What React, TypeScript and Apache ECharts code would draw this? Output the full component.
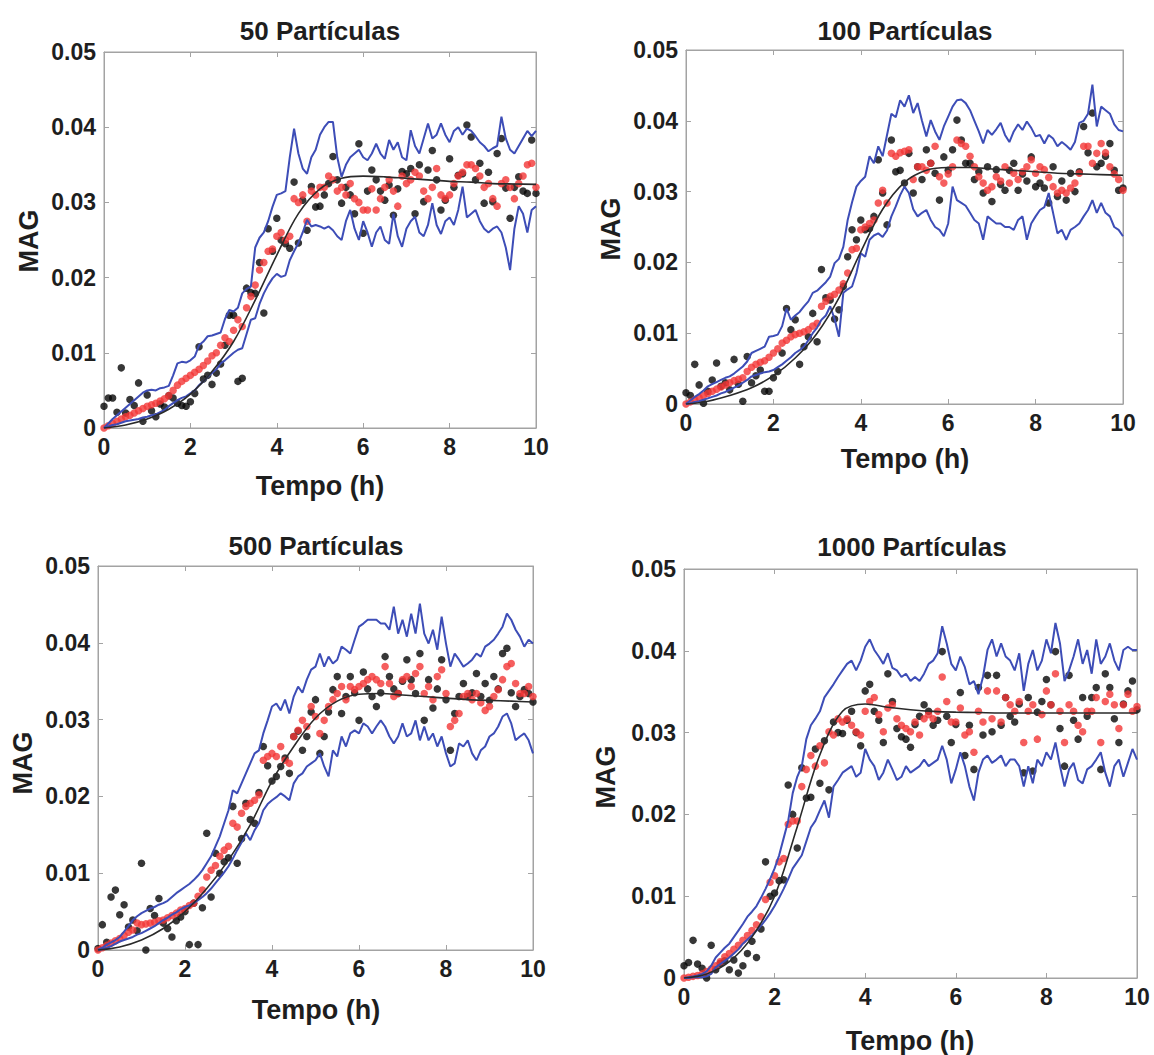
import React, { useEffect, useRef } from "react";
import * as echarts from "echarts";

// Time grid (h)
const TIME = [
  0, 0.1, 0.2, 0.3, 0.4, 0.5, 0.6, 0.7, 0.8, 0.9, 1.0,
  1.1, 1.2, 1.3, 1.4, 1.5, 1.6, 1.7, 1.8, 1.9, 2.0,
  2.1, 2.2, 2.3, 2.4, 2.5, 2.6, 2.7, 2.8, 2.9, 3.0,
  3.1, 3.2, 3.3, 3.4, 3.5, 3.6, 3.7, 3.8, 3.9, 4.0,
  4.1, 4.2, 4.3, 4.4, 4.5, 4.6, 4.7, 4.8, 4.9, 5.0,
  5.1, 5.2, 5.3, 5.4, 5.5, 5.6, 5.7, 5.8, 5.9, 6.0,
  6.1, 6.2, 6.3, 6.4, 6.5, 6.6, 6.7, 6.8, 6.9, 7.0,
  7.1, 7.2, 7.3, 7.4, 7.5, 7.6, 7.7, 7.8, 7.9, 8.0,
  8.1, 8.2, 8.3, 8.4, 8.5, 8.6, 8.7, 8.8, 8.9, 9.0,
  9.1, 9.2, 9.3, 9.4, 9.5, 9.6, 9.7, 9.8, 9.9, 10.0,
];
const CURVE_TIME = [0, 0.5, 1, 1.5, 2, 2.5, 3, 3.5, 4, 4.5, 5, 5.5, 6, 6.5, 7, 7.5, 8, 8.5, 9, 9.5, 10];

const TITLES = ["50 Partículas", "100 Partículas", "500 Partículas", "1000 Partículas"];
const X_NAME = "Tempo (h)";
const Y_NAME = "MAG";

// All MAG values below are in units of 0.001
// ---------- 50 partículas ----------
const P1_UPPER = [
  0, 0.6, 1.2, 1.7, 2.2, 2.7, 3.2, 3.7, 4.2, 4.7, 5.0,
  5.1, 5.0, 5.3, 5.4, 5.6, 7.0, 8.6, 8.8, 8.7, 9.0,
  9.5, 11.0, 11.5, 12.2, 12.3, 12.5, 12.7, 14.5, 15.7, 15.5,
  16.0, 17.9, 18.5, 18.8, 24.0, 25.3, 26.0, 27.5, 29.4, 31.0,
  31.2, 31.5, 36.0, 39.8, 36.5, 34.5, 33.8, 36.0, 37.0, 39.0,
  40.0, 40.7, 40.7, 36.0, 33.4, 35.0, 36.0, 36.5, 37.0, 36.0,
  35.6, 36.5, 37.8, 36.5, 35.8, 38.3, 37.0, 38.0, 36.0, 35.6,
  39.6, 37.5, 36.5, 38.5, 40.5, 38.5, 39.0, 40.5, 39.0, 38.0,
  39.5, 40.0, 39.0, 39.8, 39.5, 38.8, 38.0, 37.5, 36.8, 37.2,
  37.5, 41.4, 38.5, 37.0, 36.5, 37.5, 38.5, 39.5, 38.8, 39.5,
];
const P1_LOWER = [
  0, 0.2, 0.4, 0.5, 0.7, 0.9, 1.0, 1.1, 1.2, 1.4, 1.5,
  1.7, 1.8, 2.1, 2.4, 2.9, 3.3, 3.7, 4.0, 4.2, 4.6,
  5.0, 5.7, 6.2, 6.8, 7.3, 7.8, 8.6, 9.0, 9.5, 10.0,
  10.4, 10.6, 12.5, 14.4, 14.6, 16.5, 17.9, 19.0, 19.9, 20.5,
  20.1, 20.3, 22.3, 23.5, 24.6, 26.0, 27.7, 26.8, 27.0, 26.8,
  26.5, 26.8, 26.3, 25.5, 25.0, 27.5, 29.0, 26.5, 25.0, 27.5,
  26.0, 24.1, 26.0, 26.8, 25.0, 24.5, 28.5, 25.5, 24.1, 26.5,
  27.5, 28.1, 26.0, 25.5, 27.0, 29.9, 27.0, 25.8, 27.5, 28.0,
  27.0, 29.0, 32.1, 28.0, 28.5, 29.0, 27.5, 26.5, 26.0, 26.5,
  26.8, 26.0, 24.0, 21.0, 26.5, 29.5, 28.5, 26.0, 29.0, 29.5,
];
const P1_ESTIMATE = [
  0, 0.3, 0.6, 0.9, 1.2, 1.5, 1.7, 2.0, 2.3, 2.6, 2.9,
  3.1, 3.3, 3.6, 3.9, 4.3, 5.0, 5.7, 6.2, 6.6, 7.0,
  7.4, 7.8, 8.3, 8.9, 9.6, 10.0, 11.0, 12.0, 11.5, 13.0,
  14.4, 13.5, 16.0, 17.5, 19.0, 21.0, 22.0, 23.5, 23.8, 25.5,
  26.0, 25.0, 25.5, 30.5, 30.0, 31.0, 27.5, 31.5, 31.0, 32.0,
  32.0, 33.5, 33.0, 31.5, 32.0, 31.0, 32.5, 30.5, 30.0, 29.0,
  29.0, 31.8, 29.0, 30.5, 32.0, 33.0, 31.5, 29.5, 33.5, 32.5,
  33.0, 34.0, 33.5, 31.5, 30.5, 32.0, 34.5, 31.0, 30.5, 31.0,
  32.5, 33.5, 34.0, 35.0, 35.0, 34.5, 33.5, 32.0, 32.5, 30.5,
  29.5, 32.5, 33.0, 32.0, 30.5, 32.5, 33.5, 35.0, 35.2, 32.0,
];
const P1_MEASURED = [
  2.9, 4.0, 4.0, 2.1, 8.0, 2.0, 3.8, 3.0, 6.0, 0.9, 4.4,
  2.3, 1.5, 3.2, 2.8, 4.3, 4.0, 3.3, 3.0, 2.9, 3.5,
  4.6, 10.8, 6.5, 7.0, 5.8, 7.3, 8.5, 11.0, 15.0, 15.0,
  6.2, 6.6, 18.6, 18.0, 17.9, 22.0, 15.3, 26.5, 23.5, 27.9,
  25.0, 24.5, 23.9, 32.7, 24.6, 30.3, 26.3, 32.1, 29.4, 29.5,
  31.0, 32.5, 36.1, 33.0, 29.9, 32.0, 31.0, 28.5, 37.8, 25.9,
  31.5, 34.3, 33.0, 31.5, 30.3, 32.3, 28.3, 31.8, 34.1, 33.8,
  34.5, 28.5, 35.0, 30.1, 34.3, 36.9, 33.0, 29.0, 30.3, 35.8,
  32.0, 33.6, 33.8, 40.3, 38.7, 33.0, 35.2, 29.9, 34.0, 30.1,
  36.5, 38.5, 31.9, 27.9, 32.0, 33.4, 31.5, 31.2, 38.3, 31.2,
];
const P1_MODEL = [0, 0.4, 1.2, 2.5, 4.5, 7.5, 11.5, 17.0, 23.0, 28.5, 31.8, 33.2, 33.5, 33.4, 33.2, 33.0, 32.8, 32.7, 32.5, 32.45, 32.4];

// ---------- 100 partículas ----------
const P2_UPPER = [
  0, 0.5, 1.0, 1.4, 1.9, 2.5, 2.8, 3.1, 3.4, 3.7, 3.9,
  4.3, 4.8, 5.3, 6.0, 7.2, 7.5, 7.8, 8.1, 9.5, 9.6,
  9.8, 11.0, 13.5, 11.9, 12.5, 13.0, 13.8, 14.5, 15.7, 16.0,
  16.6, 17.2, 18.0, 19.9, 20.5, 22.2, 26.0, 28.5, 30.7, 31.5,
  32.1, 35.0, 34.0, 36.4, 35.0, 38.0, 41.0, 40.5, 42.9, 42.0,
  43.6, 41.1, 42.5, 40.0, 37.8, 40.1, 38.5, 37.3, 39.2, 40.6,
  42.0, 42.9, 43.0, 42.5, 41.5, 40.0, 38.5, 36.8, 38.7, 38.0,
  38.8, 39.7, 38.0, 37.0, 38.5, 39.5, 38.7, 39.9, 39.0, 37.8,
  38.0, 36.8, 38.0, 37.5, 36.4, 37.0, 36.5, 35.9, 37.0, 39.7,
  40.0, 41.0, 45.1, 39.2, 42.0, 41.5, 41.0, 39.5, 38.7, 38.5,
];
const P2_LOWER = [
  0, 0.1, 0.3, 0.4, 0.6, 0.8, 1.0, 1.2, 1.5, 1.7, 2.0,
  2.3, 2.6, 3.0, 3.4, 3.9, 4.1, 4.3, 4.5, 4.6, 4.8,
  5.2, 5.6, 6.1, 6.6, 7.2, 7.6, 8.1, 9.0, 10.0, 10.8,
  11.9, 12.5, 13.8, 12.0, 9.5, 15.7, 16.2, 16.6, 18.5, 21.3,
  20.8, 23.2, 23.8, 24.1, 23.6, 24.5, 26.5, 27.9, 29.5, 30.7,
  29.8, 27.5, 26.5, 27.0, 27.4, 26.0, 25.0, 24.6, 23.7, 25.5,
  30.7, 28.8, 28.4, 28.0, 27.0, 26.0, 25.5, 23.2, 26.5, 26.0,
  25.5, 25.5, 25.0, 25.0, 24.6, 26.0, 26.5, 23.2, 25.5, 26.5,
  27.4, 27.8, 29.8, 27.0, 24.1, 24.6, 23.2, 24.6, 25.0, 25.5,
  26.5, 27.4, 28.8, 27.0, 28.4, 27.0, 26.5, 25.0, 24.6, 23.7,
];
const P2_ESTIMATE = [
  0, 0.3, 0.6, 0.9, 1.2, 1.5, 1.8, 2.1, 2.4, 2.7, 3.0,
  3.3, 3.5, 3.7, 4.6, 5.2, 5.6, 5.9, 6.1, 6.6, 7.2,
  7.8, 8.6, 9.0, 9.5, 9.8, 10.0, 10.2, 10.5, 11.0, 11.4,
  13.8, 14.5, 15.2, 15.5, 16.1, 17.0, 18.5, 21.8, 22.0, 24.6,
  25.0, 25.5, 26.0, 28.4, 30.2, 28.4, 35.4, 35.0, 35.5, 35.7,
  35.9, 31.7, 33.5, 33.5, 33.0, 34.0, 36.4, 32.1, 31.2, 32.5,
  33.5, 37.3, 36.8, 36.4, 35.0, 33.5, 32.1, 31.2, 30.2, 30.7,
  32.1, 31.5, 33.5, 31.2, 32.6, 31.7, 32.8, 33.5, 34.5, 32.6,
  33.5, 33.1, 32.0, 30.7, 29.8, 30.2, 29.8, 30.5, 31.2, 32.6,
  36.4, 36.4, 34.0, 35.4, 36.8, 35.5, 33.5, 32.5, 31.7, 30.2,
];
const P2_MEASURED = [
  1.6, 1.2, 5.6, 2.7, 0.1, 1.8, 3.4, 5.8, 2.5, 3.0, 2.0,
  6.3, 2.8, 0.4, 6.7, 3.0, 4.0, 4.8, 1.8, 1.8, 3.7,
  4.6, 7.2, 13.5, 10.5, 11.9, 5.6, 8.1, 9.5, 12.8, 8.8,
  19.0, 15.0, 14.7, 12.0, 13.3, 16.6, 20.8, 24.6, 23.2, 26.0,
  24.6, 24.8, 26.5, 34.5, 29.8, 25.3, 37.3, 32.8, 33.0, 31.2,
  35.4, 29.8, 33.5, 31.7, 35.9, 34.0, 32.6, 28.8, 34.9, 33.0,
  35.9, 40.1, 37.3, 34.0, 34.0, 31.7, 32.8, 29.8, 33.5, 28.6,
  33.1, 31.0, 30.2, 33.0, 34.0, 30.2, 32.5, 31.5, 34.9, 30.7,
  31.2, 30.5, 28.4, 33.5, 29.3, 31.5, 28.8, 32.6, 30.0, 32.8,
  39.2, 35.5, 41.1, 33.5, 34.0, 35.0, 36.8, 33.0, 30.2, 30.5,
];
const P2_MODEL = [0, 0.4, 1.2, 2.3, 4.0, 6.5, 10.0, 15.0, 21.5, 27.5, 31.3, 33.0, 33.4, 33.4, 33.2, 33.0, 32.8, 32.6, 32.5, 32.4, 32.3];

// ---------- 500 partículas ----------
const P3_UPPER = [
  0, 0.3, 0.7, 1.0, 1.3, 1.7, 2.4, 3.1, 3.9, 4.4, 4.8,
  5.1, 5.4, 5.6, 5.9, 6.1, 6.4, 6.9, 7.4, 7.8, 8.2,
  8.6, 9.1, 9.7, 10.4, 11.3, 12.2, 13.5, 14.8, 16.5, 18.2,
  20.8, 20.4, 21.7, 23.0, 24.3, 25.6, 26.0, 28.2, 29.9, 31.7,
  32.1, 31.2, 32.6, 30.8, 33.0, 34.3, 33.5, 35.2, 36.5, 36.9,
  38.6, 36.9, 38.2, 37.3, 37.8, 39.5, 39.1, 38.6, 40.4, 42.1,
  42.5, 43.0, 43.0, 43.0, 42.5, 42.5, 41.7, 44.7, 41.2, 43.0,
  40.8, 43.8, 41.2, 45.1, 41.2, 39.9, 41.7, 39.1, 43.4, 39.9,
  36.9, 38.6, 37.8, 36.9, 37.3, 37.8, 38.6, 38.2, 39.5, 39.9,
  40.4, 41.2, 42.1, 43.8, 43.0, 41.7, 40.8, 39.5, 40.4, 39.9,
];
const P3_LOWER = [
  0, 0.1, 0.3, 0.5, 0.8, 1.1, 1.3, 1.5, 1.7, 2.0, 2.2,
  2.5, 2.8, 3.1, 3.5, 3.9, 4.2, 4.6, 4.9, 5.3, 5.6,
  5.8, 6.1, 6.5, 6.9, 7.4, 8.0, 8.7, 9.4, 10.1, 10.9,
  11.9, 13.0, 14.0, 15.2, 14.3, 15.6, 16.5, 18.2, 19.0, 19.5,
  19.9, 20.4, 20.0, 19.5, 21.7, 22.6, 23.0, 23.9, 24.3, 24.7,
  25.6, 23.9, 22.6, 26.0, 25.2, 27.8, 26.5, 28.2, 28.6, 28.2,
  29.5, 29.1, 28.2, 29.1, 29.9, 29.1, 27.8, 26.9, 27.8, 29.5,
  27.8, 28.2, 29.9, 27.3, 29.1, 27.3, 28.2, 26.5, 27.8, 25.6,
  23.9, 24.3, 26.9, 26.5, 27.3, 25.6, 24.7, 26.0, 26.5, 27.8,
  28.2, 29.1, 30.4, 30.8, 29.5, 27.3, 27.8, 28.2, 27.3, 25.6,
];
const P3_ESTIMATE = [
  0, 0.3, 0.6, 0.9, 1.2, 1.5, 1.9, 2.3, 2.6, 3.5, 3.3,
  3.4, 3.5, 3.6, 3.8, 3.9, 4.2, 4.5, 4.8, 5.2, 5.4,
  5.8, 6.1, 7.0, 7.8, 9.5, 10.4, 11.0, 12.2, 13.0, 13.5,
  16.5, 16.0, 17.8, 18.7, 19.1, 19.5, 20.2, 24.7, 25.2, 25.6,
  25.2, 26.5, 24.7, 24.3, 27.8, 28.6, 29.9, 29.1, 31.7, 30.4,
  28.2, 29.9, 31.7, 32.6, 33.4, 34.3, 32.6, 34.3, 33.9, 34.3,
  34.7, 35.2, 35.6, 35.2, 34.7, 36.9, 34.7, 33.0, 33.4, 35.2,
  35.6, 34.3, 36.0, 36.9, 33.4, 34.3, 32.6, 35.6, 36.5, 33.4,
  29.1, 29.9, 30.8, 33.0, 33.4, 32.6, 33.4, 32.2, 31.2, 31.7,
  33.0, 33.9, 35.2, 36.9, 37.3, 34.7, 33.4, 33.4, 34.3, 33.0,
];
const P3_MEASURED = [
  0.2, 3.3, 1.0, 6.9, 7.8, 4.6, 5.9, 3.0, 3.9, 2.5, 11.3,
  0.0, 5.4, 4.5, 6.7, 3.5, 2.8, 1.7, 3.8, 4.3, 5.0,
  0.7, 6.1, 0.7, 5.5, 15.2, 6.9, 12.6, 10.0, 11.5, 12.0,
  18.7, 11.3, 14.5, 19.1, 17.0, 16.5, 20.5, 26.5, 24.0, 22.0,
  22.6, 23.9, 25.0, 23.0, 27.8, 28.5, 26.0, 27.8, 31.0, 32.6,
  25.6, 27.8, 31.0, 33.9, 35.6, 30.8, 33.0, 35.6, 33.5, 29.9,
  36.2, 34.0, 33.0, 31.7, 33.5, 38.2, 35.6, 34.0, 33.4, 35.0,
  37.8, 35.2, 33.4, 38.6, 29.9, 35.2, 31.5, 34.0, 37.8, 32.6,
  26.0, 30.8, 33.0, 34.7, 33.0, 33.5, 36.0, 33.0, 34.7, 32.5,
  35.6, 34.0, 38.6, 39.3, 33.5, 31.7, 33.0, 33.9, 33.4, 32.3,
];
const P3_MODEL = [0, 0.4, 1.3, 2.8, 5.0, 8.0, 11.7, 16.3, 22.0, 26.5, 30.2, 32.4, 33.3, 33.4, 33.2, 33.0, 32.8, 32.6, 32.5, 32.4, 32.3];

// ---------- 1000 partículas ----------
const P4_UPPER = [
  0, 0.1, 0.2, 0.3, 0.5, 0.8, 1.5, 2.5, 3.1, 3.7, 4.2,
  5.0, 5.8, 6.6, 7.5, 8.1, 8.8, 9.8, 10.9, 12.1, 13.4,
  15.0, 17.1, 19.2, 22.6, 24.6, 25.9, 29.2, 30.9, 31.7, 32.6,
  34.3, 35.1, 35.9, 36.8, 37.6, 38.4, 38.8, 37.6, 38.8, 40.5,
  41.4, 40.1, 39.3, 38.4, 39.7, 37.9, 37.6, 36.8, 37.2, 36.3,
  36.8, 36.3, 37.2, 38.4, 38.8, 39.7, 43.0, 40.9, 38.4, 37.6,
  39.3, 38.0, 35.9, 36.3, 34.7, 36.8, 40.1, 41.4, 39.3, 40.9,
  39.3, 38.8, 37.6, 39.7, 35.1, 38.4, 40.1, 37.6, 38.8, 41.4,
  39.7, 43.4, 40.9, 36.3, 37.6, 39.3, 41.4, 38.4, 40.1, 37.2,
  41.4, 38.4, 39.3, 40.9, 38.8, 37.6, 40.1, 40.5, 40.1, 40.1,
];
const P4_LOWER = [
  0, 0.0, 0.1, 0.1, 0.1, 0.2, 0.5, 1.3, 1.7, 2.1, 2.5,
  3.0, 3.5, 4.2, 4.7, 5.2, 5.8, 6.4, 7.1, 7.9, 8.8,
  9.8, 10.9, 12.1, 13.4, 14.2, 15.0, 16.7, 18.4, 19.2, 20.5,
  21.7, 19.6, 23.4, 24.2, 25.1, 25.5, 25.9, 24.6, 25.1, 28.0,
  26.7, 25.9, 24.2, 25.1, 26.7, 25.5, 24.2, 24.6, 25.9, 25.1,
  25.5, 25.9, 26.7, 25.9, 26.3, 26.7, 28.4, 26.7, 23.8, 25.5,
  27.6, 25.9, 23.4, 21.7, 25.1, 26.7, 27.2, 26.3, 26.7, 27.2,
  25.9, 26.7, 26.7, 25.9, 23.4, 25.9, 23.8, 26.7, 25.9, 27.6,
  26.7, 28.8, 25.9, 23.4, 25.5, 26.3, 24.2, 23.8, 25.5, 25.9,
  26.7, 27.6, 25.1, 23.4, 25.9, 26.7, 24.6, 26.3, 28.0, 26.7,
];
const P4_ESTIMATE = [
  0, 0.1, 0.2, 0.3, 0.5, 0.8, 1.1, 1.5, 2.0, 2.6, 3.0,
  3.5, 4.0, 4.6, 5.2, 5.8, 6.5, 7.5, 9.6, 11.7, 12.5,
  14.2, 14.6, 18.8, 19.2, 19.2, 23.4, 25.5, 27.2, 25.9, 28.4,
  26.3, 30.1, 29.7, 31.7, 31.3, 31.7, 30.9, 30.1, 29.7, 32.6,
  33.8, 34.3, 32.2, 30.1, 33.0, 33.4, 31.7, 30.9, 30.5, 30.1,
  31.3, 29.7, 31.7, 32.2, 31.7, 32.6, 36.8, 33.8, 31.3, 31.3,
  33.0, 29.7, 30.1, 27.6, 32.6, 31.3, 35.1, 31.7, 35.1, 31.3,
  34.3, 33.4, 32.6, 33.8, 28.8, 32.6, 33.4, 29.2, 32.2, 35.1,
  33.4, 37.2, 32.6, 28.8, 33.4, 32.6, 30.9, 30.1, 32.6, 32.6,
  34.3, 28.8, 33.8, 34.7, 33.4, 30.5, 33.4, 34.7, 32.6, 33.2,
];
const P4_MEASURED = [
  1.5, 1.9, 4.6, 1.7, 1.2, 0.0, 4.0, 1.0, 1.8, 2.1, 1.0,
  2.2, 0.6, 1.5, 3.0, 4.5, 2.5, 6.0, 14.2, 10.0, 10.4,
  11.9, 12.0, 23.6, 20.0, 15.9, 25.7, 22.0, 22.1, 28.0, 23.8,
  29.0, 23.0, 31.3, 30.0, 29.9, 31.5, 32.6, 30.0, 28.4, 35.1,
  35.9, 32.6, 31.5, 28.8, 37.2, 33.8, 30.5, 29.5, 29.2, 28.2,
  31.0, 32.0, 33.4, 32.6, 30.9, 31.5, 39.9, 32.0, 28.8, 31.0,
  34.9, 27.2, 30.9, 25.5, 35.5, 29.7, 37.0, 30.1, 37.0, 30.9,
  34.3, 32.0, 31.3, 33.5, 25.1, 34.3, 25.3, 32.5, 33.8, 36.5,
  33.4, 39.9, 30.5, 25.9, 37.0, 31.5, 29.2, 34.3, 32.0, 34.3,
  35.5, 25.5, 37.2, 35.5, 31.7, 28.8, 33.5, 35.1, 36.3, 32.8,
];
const P4_MODEL = [0, 0.5, 2.0, 5.0, 10.0, 18.5, 27.3, 32.6, 33.5, 33.1, 32.8, 32.6, 32.5, 32.45, 32.4, 32.4, 32.4, 32.4, 32.4, 32.4, 32.4];

const PANELS = [
  { upper: P1_UPPER, lower: P1_LOWER, est: P1_ESTIMATE, meas: P1_MEASURED, model: P1_MODEL },
  { upper: P2_UPPER, lower: P2_LOWER, est: P2_ESTIMATE, meas: P2_MEASURED, model: P2_MODEL },
  { upper: P3_UPPER, lower: P3_LOWER, est: P3_ESTIMATE, meas: P3_MEASURED, model: P3_MODEL },
  { upper: P4_UPPER, lower: P4_LOWER, est: P4_ESTIMATE, meas: P4_MEASURED, model: P4_MODEL },
];

// layout (pixels)
const GRIDS = [
  { left: 104, top: 52, width: 432, height: 376 },
  { left: 686, top: 50, width: 437, height: 354 },
  { left: 98, top: 566, width: 435, height: 384 },
  { left: 684, top: 569, width: 453, height: 409 },
];
const TITLE_POS = [[320, 31], [905, 31], [316, 546], [912, 547]];
const XNAME_POS = [[320, 486], [905, 459], [316, 1010], [910, 1041]];
const YNAME_POS = [[29, 241], [611, 229], [23, 763], [606, 777]];

const FONT = "'Liberation Sans', Arial, Helvetica, sans-serif";
const AXIS_COLOR = "#a3a3a3";
const TEXT_COLOR = "#1e1e1e";

export default function App() {
  const ref = useRef<HTMLDivElement>(null);

  useEffect(() => {
    if (!ref.current) return;
    const chart = echarts.init(ref.current, undefined, { renderer: "svg" });

    const xAxis: any[] = [];
    const yAxis: any[] = [];
    const series: any[] = [];
    const graphic: any[] = [];

    const labelStyle = {
      fontSize: 23,
      fontWeight: "bold",
      fontFamily: FONT,
      color: TEXT_COLOR,
    };

    GRIDS.forEach((g, gi) => {
      const common = {
        gridIndex: gi,
        type: "value",
        axisLine: { show: true, onZero: false, lineStyle: { color: AXIS_COLOR, width: 1 } },
        axisTick: { show: true, inside: true, length: 5, lineStyle: { color: AXIS_COLOR } },
        splitLine: { show: false },
      };
      xAxis.push({
        ...common,
        position: "bottom",
        min: 0,
        max: 10,
        interval: 2,
        axisLabel: { ...labelStyle, margin: 7, formatter: (v: number) => String(v) },
      });
      xAxis.push({
        ...common,
        position: "top",
        min: 0,
        max: 10,
        interval: 2,
        axisLabel: { show: false },
      });
      yAxis.push({
        ...common,
        position: "left",
        min: 0,
        max: 50,
        interval: 10,
        axisLabel: {
          ...labelStyle,
          margin: 8,
          formatter: (v: number) => (v === 0 ? "0" : (v / 1000).toFixed(2)),
        },
      });
      yAxis.push({
        ...common,
        position: "right",
        min: 0,
        max: 50,
        interval: 10,
        axisLabel: { show: false },
      });

      const p = PANELS[gi];
      const xi = gi * 2;
      const yi = gi * 2;
      const pts = (ys: number[]) => TIME.map((t, i) => [t, ys[i]]);

      series.push({
        type: "scatter",
        xAxisIndex: xi,
        yAxisIndex: yi,
        data: pts(p.meas),
        symbol: "circle",
        symbolSize: 7.5,
        itemStyle: { color: "#050505" },
        z: 2,
      });
      series.push({
        type: "scatter",
        xAxisIndex: xi,
        yAxisIndex: yi,
        data: pts(p.est),
        symbol: "circle",
        symbolSize: 7.5,
        itemStyle: { color: "#f23636" },
        z: 3,
      });
      [p.upper, p.lower].forEach((band) => {
        series.push({
          type: "line",
          xAxisIndex: xi,
          yAxisIndex: yi,
          data: pts(band),
          showSymbol: false,
          symbol: "none",
          lineStyle: { color: "#3d4db7", width: 2 },
          z: 4,
        });
      });
      series.push({
        type: "line",
        xAxisIndex: xi,
        yAxisIndex: yi,
        data: CURVE_TIME.map((t, i) => [t, p.model[i]]),
        showSymbol: false,
        symbol: "none",
        smooth: 0.35,
        lineStyle: { color: "#2a2a2a", width: 1.6 },
        z: 5,
      });

      const textStyle = (text: string, size: number) => ({
        text,
        font: `bold ${size}px ${FONT}`,
        fill: TEXT_COLOR,
        align: "center",
        verticalAlign: "middle",
        textAlign: "center",
        textVerticalAlign: "middle",
      });
      graphic.push({
        type: "text",
        x: TITLE_POS[gi][0],
        y: TITLE_POS[gi][1],
        style: textStyle(TITLES[gi], 26),
      });
      graphic.push({
        type: "text",
        x: XNAME_POS[gi][0],
        y: XNAME_POS[gi][1],
        style: textStyle(X_NAME, 27),
      });
      graphic.push({
        type: "text",
        x: YNAME_POS[gi][0],
        y: YNAME_POS[gi][1],
        rotation: Math.PI / 2,
        style: textStyle(Y_NAME, 27),
      });
    });

    chart.setOption({
      animation: false,
      backgroundColor: "#ffffff",
      grid: GRIDS.map((g) => ({
        ...g,
        show: true,
        borderColor: AXIS_COLOR,
        borderWidth: 1,
        backgroundColor: "transparent",
        containLabel: false,
      })),
      xAxis,
      yAxis,
      series,
      graphic,
    });

    return () => {
      chart.dispose();
    };
  }, []);

  return (
    <div
      ref={ref}
      style={{ position: "absolute", left: 0, top: 0, width: 1154, height: 1055 }}
    />
  );
}
